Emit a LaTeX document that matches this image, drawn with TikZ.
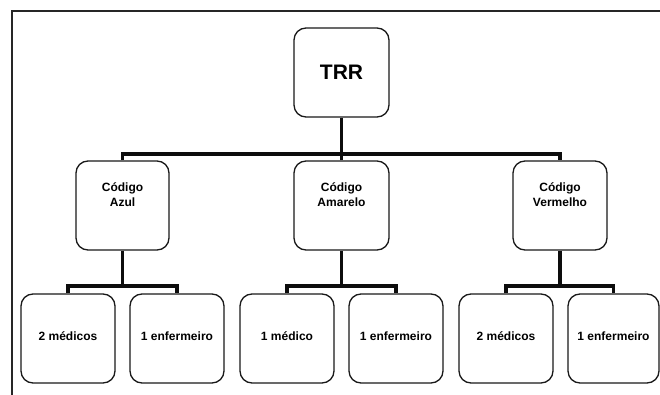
\documentclass[tikz,border=0pt]{standalone}
\usepackage{fontspec}
\setmainfont{Liberation Sans}
\usetikzlibrary{backgrounds}
\begin{document}
\begin{tikzpicture}[x=1pt,y=-1pt,
  box/.style={draw=black!90, line width=1.3pt, rounded corners=12pt, fill=white,
    minimum width=94pt, minimum height=89pt, inner sep=0pt},
  lab/.style={font=\bfseries\fontsize{12}{15}\selectfont, align=center, inner sep=0pt},
  big/.style={font=\bfseries\fontsize{21}{25}\selectfont, inner sep=0pt},
  conn/.style={draw=black!95, line width=3.8pt},
  frame/.style={draw=black!85, line width=2pt}]
\useasboundingbox (0,0) rectangle (660,395);
% frame (only top and left edges visible)
\coordinate (fa) at (12,395);
\coordinate (fb) at (12,11);
\coordinate (fc) at (660,11);
\draw[frame] (fa) -- (fb) -- (fc);
% boxes
\node[box, minimum width=95pt] (trr) at (341.5,72.5) {};
\node[box, minimum width=93pt] (az) at (122.5,205.5) {};
\node[box, minimum width=95pt] (am) at (341.5,205.5) {};
\node[box] (ve) at (560,205.5) {};
\node[box] (a1) at (68,338.5) {};
\node[box] (a2) at (177,338.5) {};
\node[box] (b1) at (287,338.5) {};
\node[box] (b2) at (396,338.5) {};
\node[box] (c1) at (506,338.5) {};
\node[box, minimum width=91pt] (c2) at (613.5,338.5) {};
% connectors behind the boxes
\begin{scope}[on background layer]
\draw[conn] (trr.south) -- ++(0,38);
\draw[conn] (az.north) -- ++(0,-6.5) coordinate (bl) -- (bl -| ve.north) -- (ve.north);
\draw[conn] (am.north) -- ++(0,-6.5);
\foreach \p/\l/\r in {az/a1/a2, am/b1/b2, ve/c1/c2}{
  \draw[conn] (\p.south) -- ++(0,37);
  \draw[conn] (\l.north) -- ++(0,-7) coordinate (hl) -- (hl -| \r.north) -- (\r.north);
}
\end{scope}
% texts
\node[big] (trrt) at (trr.center) {TRR};
\node[lab] (azt) at ([yshift=10.5pt]az.center) {Código\\Azul};
\node[lab] (amt) at ([yshift=10.5pt]am.center) {Código\\Amarelo};
\node[lab] (vet) at ([yshift=10.5pt]ve.center) {Código\\Vermelho};
\node[lab] (a1t) at ([yshift=2.5pt]a1.center) {2 médicos};
\node[lab] (a2t) at ([yshift=2.5pt]a2.center) {1 enfermeiro};
\node[lab] (b1t) at ([yshift=2.5pt]b1.center) {1 médico};
\node[lab] (b2t) at ([yshift=2.5pt]b2.center) {1 enfermeiro};
\node[lab] (c1t) at ([yshift=2.5pt]c1.center) {2 médicos};
\node[lab] (c2t) at ([yshift=2.5pt]c2.center) {1 enfermeiro};
\end{tikzpicture}
\end{document}
